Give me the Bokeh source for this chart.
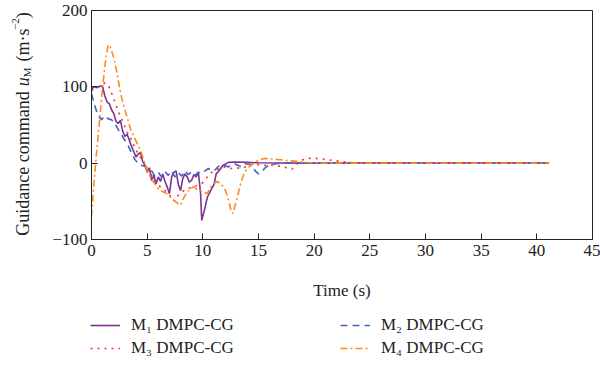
import math
from bokeh.plotting import figure
from bokeh.layouts import row, column
from bokeh.models import Range1d, Label, Legend, LegendItem, FixedTicker
from bokeh.embed import file_html
from bokeh.resources import INLINE

# ---------------- data ----------------
m1_t = [0, 0.2, 0.5, 0.8, 1.0, 1.2, 1.4, 1.6, 1.8, 2.0, 2.2, 2.4, 2.6, 2.8, 3.0, 3.2, 3.4, 3.6,
        3.8, 4.0, 4.2, 4.4, 4.6, 4.8, 5.0, 5.2, 5.4, 5.6, 5.8, 6.0, 6.2, 6.4, 6.6, 6.8, 7.0,
        7.2, 7.4, 7.6, 7.8, 8.0, 8.2, 8.4, 8.6, 8.8, 9.0, 9.2, 9.4, 9.6, 9.8, 9.9, 10.2,
        10.4, 10.7, 11.0, 11.2, 11.5, 11.8, 12.3, 13.0, 14.0, 15.0, 17.0, 20.0, 25.0, 30.0,
        35.0, 41.1]
m1_u = [96, 100, 99, 101, 100, 88, 80, 78, 70, 65, 55, 52, 56, 42, 35, 38, 30, 22,
        15, 8, 12, 14, 2, -3, -12, -6, -23, -16, -27, -18, -24, -14, -24, -31, -40,
        -18, -12, -10, -28, -36, -20, -14, -18, -25, -22, -15, -18, -12, -40, -75, -58,
        -45, -36, -28, -14, -9, -3, 1, 1.5, 1, 0.5, 0.3, 0, 0, 0,
        0, 0]

m2_t = [0, 0.3, 0.6, 0.9, 1.2, 1.5, 1.8, 2.1, 2.4, 2.7, 3.0, 3.3, 3.6, 3.9, 4.2, 4.5, 4.8,
        5.1, 5.4, 5.7, 6.0, 6.3, 6.6, 6.9, 7.2, 7.5, 7.8, 8.1, 8.4, 8.7, 9.0, 9.3, 9.6, 9.9,
        10.2, 10.5, 10.8, 11.1, 11.4, 11.7, 12.0, 12.3, 12.6, 12.9, 13.2, 13.5, 13.8, 14.1,
        14.4, 14.7, 15.0, 15.3, 15.6, 16.0, 16.5, 17.0, 18.0, 20.0, 25.0, 30.0, 35.0, 41.1]
m2_u = [91, 75, 62, 57, 62, 58, 57, 52, 44, 37, 30, 23, 13, 5, -1, -3, -4,
        -6, -10, -17, -12, -18, -11, -16, -10, -18, -12, -17, -10, -15, -11, -16, -12, -13,
        -10, -7, -10, -9, -4, -6, -3, -5, -2, -1, -3, -5, -1, -1,
        -3, -10, -14, -11, -6, -2, -1, 0, 0, 0, 0, 0, 0, 0]

m3_t = [0, 0.4, 0.8, 1.2, 1.5, 1.8, 2.1, 2.4, 2.7, 3.0, 3.3, 3.6, 3.9, 4.2, 4.5, 4.8, 5.1,
        5.4, 5.7, 6.0, 6.3, 6.6, 6.9, 7.2, 7.5, 7.8, 8.1, 8.4, 8.7, 9.0, 9.3, 9.6, 9.9, 10.2,
        10.5, 10.8, 11.1, 11.5, 12.0, 12.5, 13.0, 13.5, 14.0, 14.5, 15.0, 15.5, 16.0, 16.5,
        17.0, 17.5, 18.0, 18.4, 18.8, 19.2, 19.8, 20.5, 21.0, 21.7, 22.3, 23.0, 24.0, 30.0,
        35.0, 41.1]
m3_u = [95, 98, 102, 105, 103, 92, 80, 68, 58, 48, 38, 30, 20, 12, 5, -2, -8,
        -16, -24, -28, -33, -36, -40, -45, -50, -42, -38, -35, -33, -32, -30, -29, -27, -22,
        -16, -12, -9, -7, -5, -7, -6, -7, -4, -1, -2, -3, -2, -3,
        -4, -6, -8, -2, 3, 6, 6.5, 6, 5, 3.5, 2.5, 1, 0, 0,
        0, 0]

m4_t = [0, 0.2, 0.4, 0.7, 1.0, 1.3, 1.5, 1.7, 2.0, 2.3, 2.6, 2.9, 3.2, 3.5, 3.8, 4.1, 4.4,
        4.7, 5.0, 5.3, 5.6, 5.9, 6.2, 6.5, 6.8, 7.1, 7.4, 7.7, 8.0, 8.3, 8.6, 8.9, 9.2, 9.5,
        9.8, 10.1, 10.4, 10.7, 11.0, 11.3, 11.6, 11.9, 12.2, 12.5, 12.7, 12.9, 13.1, 13.3,
        13.5, 13.7, 13.9, 14.2, 14.6, 15.0, 15.5, 16.0, 16.5, 17.0, 17.5, 18.0, 18.5, 19.0,
        20.0, 21.0, 25.0, 30.0, 35.0, 41.1]
m4_u = [-70, -30, 5, 52, 100, 139, 155, 152, 138, 118, 92, 75, 60, 45, 35, 26, 17,
        4, -10, -18, -25, -32, -36, -38, -40, -45, -49, -52, -55, -45, -38, -33, -31, -35,
        -36, -38, -40, -31, -27, -24, -27, -32, -42, -60, -66, -55, -45, -32,
        -22, -14, -9, -4, 0, 4, 6, 6, 5, 4.5, 3.5, 3, 2, 1,
        0.5, 0, 0, 0, 0, 0]

series_t = [m1_t, m2_t, m3_t, m4_t]
series_u = [m1_u, m2_u, m3_u, m4_u]
series_labels = ["M\u2081 DMPC-CG", "M\u2082 DMPC-CG", "M\u2083 DMPC-CG", "M\u2084 DMPC-CG"]
x_ticks = [0, 5, 10, 15, 20, 25, 30, 35, 40, 45]
y_ticks = [-100, 0, 100, 200]
y_tick_labels = ["\u2212100", "0", "100", "200"]
x_title = "Time (s)"

# ---------------- layout constants ----------------
FONT = "Liberation Serif"
TOTAL_W = 600
LW = 34                     # strip holding the rotated y title
PH = 311                    # height of the main plot canvas
LEG_H = 55                  # strip holding the legend
W = TOTAL_W - LW
B_LEFT, B_RIGHT, B_TOP, B_BOTTOM = 91 - LW, 8, 10, 72
FRAME_H = PH - B_TOP - B_BOTTOM

STYLES = [dict(line_color="#7B3490", line_width=1.6),
          dict(line_color="#4264C4", line_width=1.6, line_dash="7 5"),
          dict(line_color="#FF2A2A", line_width=1.6, line_dash="2 5"),
          dict(line_color="#FF8A1F", line_width=1.6, line_dash="7 3 2 3")]

p = figure(width=W, height=PH, output_backend="svg", toolbar_location=None,
           x_range=Range1d(0, 45), y_range=Range1d(-100, 200),
           min_border_left=B_LEFT, min_border_right=B_RIGHT,
           min_border_top=B_TOP, min_border_bottom=B_BOTTOM)
p.xgrid.visible = False
p.ygrid.visible = False
p.outline_line_color = "#222222"
p.outline_line_width = 1
p.background_fill_color = "white"
p.border_fill_color = "white"

for ax in (p.xaxis[0], p.yaxis[0]):
    ax.major_tick_in = 6
    ax.major_tick_out = 0
    ax.minor_tick_line_color = None
    ax.axis_line_color = "#222222"
    ax.major_tick_line_color = "#222222"
    ax.major_label_text_font = FONT
    ax.major_label_text_font_size = "17px"
    ax.major_label_text_color = "#222222"

p.xaxis.ticker = FixedTicker(ticks=x_ticks)
p.yaxis.ticker = FixedTicker(ticks=y_ticks)
p.yaxis.major_label_overrides = {t: s for t, s in zip(y_ticks, y_tick_labels)}
p.xaxis.major_label_standoff = 5
p.yaxis.major_label_standoff = 4
p.xaxis.axis_label = x_title
p.xaxis.axis_label_text_font = FONT
p.xaxis.axis_label_text_font_size = "17px"
p.xaxis.axis_label_text_font_style = "normal"
p.xaxis.axis_label_text_color = "#222222"
p.xaxis.axis_label_standoff = 22

for t, u, st in zip(series_t, series_u, STYLES):
    p.line(t, u, **st)

# ---------------- strip with the rotated y-axis title ----------------
q = figure(width=LW, height=PH, output_backend="svg", toolbar_location=None,
           x_range=Range1d(0, 1), y_range=Range1d(0, 1),
           x_axis_type=None, y_axis_type=None,
           min_border_left=0, min_border_right=0, min_border_top=0, min_border_bottom=0)
q.xgrid.visible = False
q.ygrid.visible = False
q.outline_line_color = None
q.background_fill_color = "white"
q.border_fill_color = "white"

EM = {"G": .722, "u": .5, "i": .278, "d": .5, "a": .444, "n": .5, "c": .444, "e": .444,
      " ": .25, "o": .5, "m": .778, "M": .889, "(": .333, ")": .333, "\u00b7": .25,
      "s": .389, "\u2212": .564, "2": .5}

def width(s, size):
    return sum(EM.get(ch, .5) for ch in s) * size

# (text, font size, style, baseline shift, gap before the piece)
pieces = [("Guidance command", 18, "normal", 0, 0),
          ("u", 18, "italic", 0, 5),
          ("M", 11, "normal", 4, 0),
          ("(m\u00b7s", 18, "normal", 0, 6),
          ("\u22122", 11, "normal", -7, 0),
          (")", 18, "normal", 0, 0)]
total = sum(width(s, sz) + g for s, sz, _, _, g in pieces)
y_pos = (FRAME_H - total) / 2 + 1
BASE_X = 22
for s, sz, style, dx, gap in pieces:
    y_pos += gap
    q.add_layout(Label(x=BASE_X + dx, y=y_pos, x_units="screen", y_units="screen",
                       text=s, angle=math.pi / 2, text_align="left",
                       text_baseline="alphabetic", text_font=FONT,
                       text_font_size=f"{sz}px", text_font_style=style,
                       text_color="#222222"))
    y_pos += width(s, sz)

# ---------------- strip with the two-column legend ----------------
lf = figure(width=TOTAL_W, height=LEG_H, output_backend="svg", toolbar_location=None,
            x_range=Range1d(-200, -199), y_range=Range1d(0, 1),
            x_axis_type=None, y_axis_type=None,
            min_border_left=0, min_border_right=0, min_border_top=0, min_border_bottom=0)
lf.xgrid.visible = False
lf.ygrid.visible = False
lf.outline_line_color = None
lf.background_fill_color = "white"
lf.border_fill_color = "white"
# legend proxies (same data, outside this strip's visible range)
proxies = [lf.line(t, u, **st) for t, u, st in zip(series_t, series_u, STYLES)]

def make_legend(idx, x):
    return Legend(items=[LegendItem(label=series_labels[i], renderers=[proxies[i]]) for i in idx],
                  location=(x, 8), orientation="vertical", border_line_color=None,
                  background_fill_alpha=0, padding=0, margin=0, spacing=3,
                  glyph_height=20, glyph_width=30, label_height=20,
                  label_standoff=11, label_text_font=FONT,
                  label_text_font_size="17px", label_text_color="#222222")

lf.add_layout(make_legend([0, 2], 90))
lf.add_layout(make_legend([1, 3], 340))

layout = column(row(q, p), lf)
open("out.html", "w").write(file_html(layout, INLINE))
